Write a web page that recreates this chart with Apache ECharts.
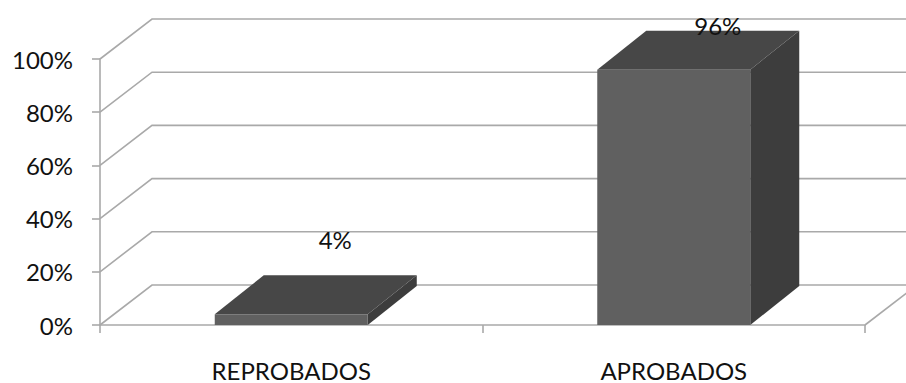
<!DOCTYPE html>
<html>
<head>
<meta charset="utf-8">
<script src="https://cdn.jsdelivr.net/npm/echarts@6/dist/echarts.min.js"></script>
<style>
  html, body { margin: 0; padding: 0; background: #ffffff; }
  #chart { width: 906px; height: 383px; }
</style>
</head>
<body>
<div id="chart"></div>
<script>
// Categories and their shares of students
const categories = ['REPROBADOS', 'APROBADOS'];
const shares = [0.04, 0.96];
const yTicks = [0, 0.2, 0.4, 0.6, 0.8, 1];

// Oblique projection used for the 3D look
const WALL_DX = 52, WALL_DY = -40;   // depth of floor and back wall
const BAR_DX = 49, BAR_DY = -39;     // depth of each column
const BAR_RATIO = 0.40;              // column width as a share of the category band
const FONT = 'Lato, "Open Sans", sans-serif';
const GRID_COLOR = '#a9a9a9';

const pct = v => Math.round(v * 100) + '%';

const chart = echarts.init(document.getElementById('chart'), null, { renderer: 'svg' });

// Gridlines run across the left wall then along the back wall
function renderGridLine(params, api) {
  const cs = params.coordSys;
  const y = api.coord([0, api.value(1)])[1];
  const children = [{
    type: 'polyline',
    shape: { points: [[cs.x, y], [cs.x + WALL_DX, y + WALL_DY], [cs.x + cs.width + WALL_DX, y + WALL_DY]] },
    style: { stroke: GRID_COLOR, lineWidth: 1.6, fill: null }
  }];
  if (api.value(1) === yTicks[0]) {
    // right edge of the floor
    children.push({
      type: 'line',
      shape: { x1: cs.x + cs.width, y1: y, x2: cs.x + cs.width + WALL_DX, y2: y + WALL_DY },
      style: { stroke: GRID_COLOR, lineWidth: 1.6 }
    });
  }
  return { type: 'group', children };
}

// A column drawn as a box: right side, top, then front face
function renderColumn(params, api) {
  const cs = params.coordSys;
  const i = api.value(0);
  const v = api.value(1);
  const base = api.coord([i, 0]);
  const top = api.coord([i, v]);
  const w = api.size([1, 0])[0] * BAR_RATIO;
  const x0 = base[0] - w / 2, x1 = base[0] + w / 2;
  const yb = base[1], yt = top[1];
  return {
    type: 'group',
    children: [
      {
        type: 'polygon',
        shape: { points: [[x1, yb], [x1 + BAR_DX, yb + BAR_DY], [x1 + BAR_DX, yt + BAR_DY], [x1, yt]] },
        style: { fill: '#3d3d3d' }
      },
      {
        type: 'polygon',
        shape: { points: [[x0, yt], [x1, yt], [x1 + BAR_DX, yt + BAR_DY], [x0 + BAR_DX, yt + BAR_DY]] },
        style: { fill: '#474747' }
      },
      {
        type: 'rect',
        shape: { x: x0, y: yt, width: w, height: yb - yt },
        style: { fill: '#606060' }
      },
      {
        type: 'text',
        x: base[0] + 44,
        y: Math.max(yt - 75, cs.y - 34),
        style: {
          text: pct(v), fill: '#111', font: '24px ' + FONT,
          align: 'center', verticalAlign: 'middle'
        }
      }
    ]
  };
}

chart.setOption({
  animation: false,
  grid: { left: 100, right: 41, top: 59, bottom: 58 },
  xAxis: {
    type: 'category',
    data: categories,
    boundaryGap: true,
    axisLine: { lineStyle: { color: GRID_COLOR, width: 1.6 } },
    axisTick: { show: true, length: 8, interval: 0, lineStyle: { color: GRID_COLOR, width: 1.6 } },
    axisLabel: { color: '#111', fontFamily: FONT, fontSize: 24, margin: 33, interval: 0 },
    splitLine: { show: false }
  },
  yAxis: {
    type: 'value',
    min: 0, max: 1, interval: 0.2,
    axisLine: { show: true, lineStyle: { color: GRID_COLOR, width: 1.6 } },
    axisTick: { show: true, length: 8, lineStyle: { color: GRID_COLOR, width: 1.6 } },
    axisLabel: { color: '#111', fontFamily: FONT, fontSize: 24, margin: 27, formatter: pct },
    splitLine: { show: false }
  },
  series: [
    {
      type: 'custom',
      name: 'grid',
      renderItem: renderGridLine,
      data: yTicks.map(v => [0, v]),
      encode: { x: 0, y: 1 },
      silent: true,
      z: 1
    },
    {
      type: 'custom',
      name: 'share',
      renderItem: renderColumn,
      data: shares.map((v, i) => [i, v]),
      encode: { x: 0, y: 1 },
      z: 2
    }
  ]
});
</script>
</body>
</html>
